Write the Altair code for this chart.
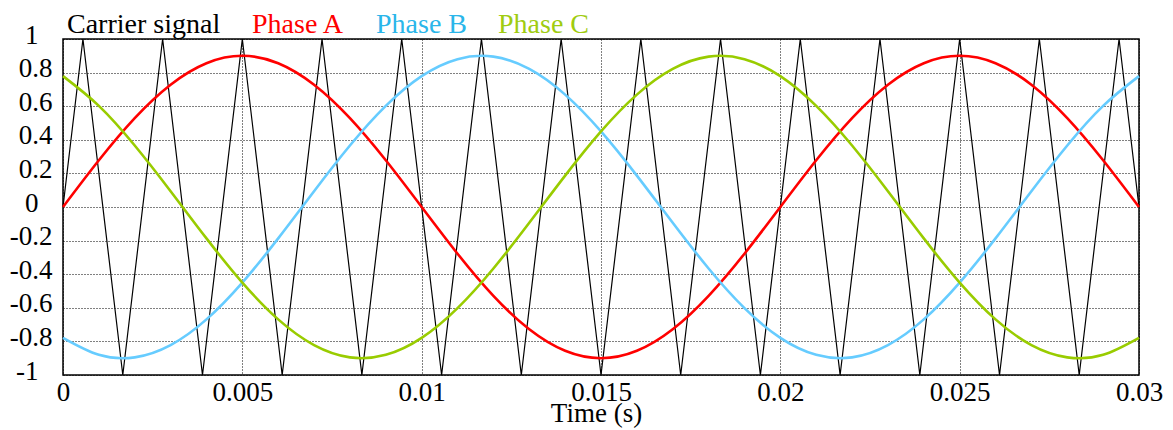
import altair as alt
import pandas as pd

# ---- data ----
series_names = ["Carrier signal", "Phase A", "Phase B", "Phase C"]
series_colors = ["#000000", "#ff0000", "#66ccff", "#99cc00"]

# carrier triangle wave vertices (time in s, value)
carrier_t = [0.0, 0.000556, 0.001667, 0.002778, 0.003889, 0.005, 0.006111,
             0.007222, 0.008333, 0.009444, 0.010556, 0.011667, 0.012778,
             0.013889, 0.015, 0.016111, 0.017222, 0.018333, 0.019444,
             0.020556, 0.021667, 0.022778, 0.023889, 0.025, 0.026111,
             0.027222, 0.028333, 0.029444, 0.03]
carrier_v = [0, 1, -1, 1, -1, 1, -1, 1, -1, 1, -1, 1, -1, 1, -1,
             1, -1, 1, -1, 1, -1, 1, -1, 1, -1, 1, -1, 1, 0]

# sampled phase references
phase_t = [0.0, 0.001, 0.002, 0.003, 0.004, 0.005, 0.006, 0.007, 0.008, 0.009,
           0.010, 0.011, 0.012, 0.013, 0.014, 0.015, 0.016, 0.017, 0.018, 0.019,
           0.020, 0.021, 0.022, 0.023, 0.024, 0.025, 0.026, 0.027, 0.028, 0.029,
           0.030]
phase_a = [0, 0.278, 0.529, 0.728, 0.856, 0.9, 0.856, 0.728, 0.529, 0.278,
           0, -0.278, -0.529, -0.728, -0.856, -0.9, -0.856, -0.728, -0.529, -0.278,
           0, 0.278, 0.529, 0.728, 0.856, 0.9, 0.856, 0.728, 0.529, 0.278, 0]
phase_b = [-0.779, -0.880, -0.895, -0.822, -0.669, -0.45, -0.187, 0.094, 0.366, 0.602,
           0.779, 0.880, 0.895, 0.822, 0.669, 0.45, 0.187, -0.094, -0.366, -0.602,
           -0.779, -0.880, -0.895, -0.822, -0.669, -0.45, -0.187, 0.094, 0.366, 0.602,
           0.779]
phase_c = [0.779, 0.602, 0.366, 0.094, -0.187, -0.45, -0.669, -0.822, -0.895, -0.880,
           -0.779, -0.602, -0.366, -0.094, 0.187, 0.45, 0.669, 0.822, 0.895, 0.880,
           0.779, 0.602, 0.366, 0.094, -0.187, -0.45, -0.669, -0.822, -0.895, -0.880,
           -0.779]

x_ticks = [0, 0.005, 0.01, 0.015, 0.02, 0.025, 0.03]
y_ticks = [-1, -0.8, -0.6, -0.4, -0.2, 0, 0.2, 0.4, 0.6, 0.8, 1]

# ---- tables ----
df_carrier = pd.DataFrame({"t": carrier_t, "v": carrier_v, "s": series_names[0]})
rows = []
for name, vals in zip(series_names[1:], [phase_a, phase_b, phase_c]):
    for t, v in zip(phase_t, vals):
        rows.append({"t": t, "v": v, "s": name})
df_phase = pd.DataFrame(rows)

FONT = "Liberation Serif"

color_scale = alt.Scale(domain=series_names, range=series_colors)

label_color_expr = (
    "datum.value == 'Phase A' ? '#ff0000' : "
    "datum.value == 'Phase B' ? '#2ab6ea' : "
    "datum.value == 'Phase C' ? '#a0cc10' : '#000000'"
)

x_enc = alt.X(
    "t:Q",
    scale=alt.Scale(domain=[0, 0.03], nice=False, zero=False),
    axis=alt.Axis(
        values=x_ticks,
        labelExpr="'' + datum.value",
        title="Time (s)",
        titleBaseline="alphabetic", titleY=46, titleX=533, titleAlign="center",
        labelBaseline="alphabetic", labelPadding=25,
    ),
)
y_enc = alt.Y(
    "v:Q",
    scale=alt.Scale(domain=[-1, 1], nice=False, zero=False),
    axis=alt.Axis(
        values=y_ticks,
        labelExpr="'' + datum.value",
        title=None,
        labelBaseline="alphabetic", labelAlign="right", labelOffset=4,
        labelPadding={"condition": {"test": "abs(datum.value) == 1 || datum.value == 0",
                                    "value": 25}, "value": 11},
    ),
)

legend = alt.Legend(
    orient="none", legendX=-24, legendY=-28, direction="horizontal", title=None,
    symbolType="circle", symbolSize=0.01, symbolStrokeWidth=0, symbolOpacity=0,
    labelOffset=0, columnPadding=3, labelLimit=0,
    labelColor={"expr": label_color_expr}, padding=0, labelBaseline="middle",
)

carrier = alt.Chart(df_carrier).mark_line(strokeWidth=1.2, interpolate="linear").encode(
    x=x_enc, y=y_enc,
    color=alt.Color("s:N", scale=color_scale, legend=legend),
    detail="s:N",
)
phases = alt.Chart(df_phase).mark_line(strokeWidth=2.6, interpolate="natural").encode(
    x=x_enc, y=y_enc,
    color=alt.Color("s:N", scale=color_scale, legend=legend),
    detail="s:N",
)

chart = alt.layer(carrier, phases).properties(
    width=1076, height=336,
    autosize=alt.AutoSizeParams(type="none"),
    padding={"left": 55, "top": 31, "right": 26, "bottom": 55},
).configure(
    background="white"
).configure_view(
    stroke="#000000", strokeWidth=1.5
).configure_axis(
    labelFont=FONT, labelFontSize=27, labelColor="#000000",
    titleFont=FONT, titleFontSize=27, titleFontWeight="normal", titleColor="#000000",
    ticks=False, tickSize=0, domain=False, labelFlush=False,
    grid=True, gridColor="#000000", gridDash=[1, 2], gridWidth=1, gridOpacity=1,
).configure_legend(
    labelFont=FONT, labelFontSize=28,
)

chart.save("out.html", embed_options={"renderer": "svg", "actions": False})
